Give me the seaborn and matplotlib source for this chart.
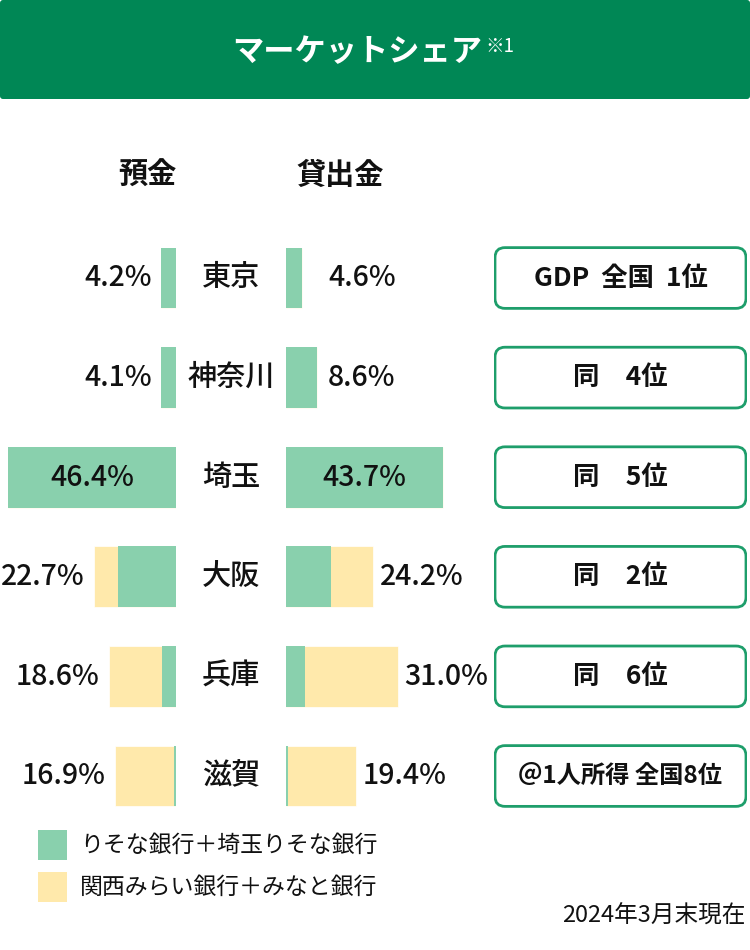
import matplotlib
matplotlib.use("Agg")
import matplotlib.pyplot as plt
import seaborn as sns
import pandas as pd
from matplotlib.patches import FancyBboxPatch, Rectangle
from matplotlib.transforms import blended_transform_factory

# ---------------- data ----------------
prefectures = ["東京", "神奈川", "埼玉", "大阪", "兵庫", "滋賀"]
deposit_total = [4.2, 4.1, 46.4, 22.7, 18.6, 16.9]
deposit_resona = [4.2, 4.1, 46.4, 16.0, 3.9, 0.6]
loan_total = [4.6, 8.6, 43.7, 24.2, 31.0, 19.4]
loan_resona = [4.6, 8.6, 43.7, 12.5, 5.3, 0.5]
rank_labels = ["GDP  全国  1位", "同　4位", "同　5位", "同　2位", "同　6位", "＠1人所得 全国8位"]
legend_labels = ["りそな銀行＋埼玉りそな銀行", "関西みらい銀行＋みなと銀行"]
col_headers = ["預金", "貸出金"]
title = "マーケットシェア"
title_note = "※1"
date_note = "2024年3月末現在"

# ---------------- style ----------------
GREEN = "#89D0AD"
YELLOW = "#FFE9AB"
HEADER = "#008755"
BOX_EDGE = "#1E9E6B"
TXT = "#111111"

sns.set_theme(style="white")
plt.rcParams["font.family"] = ["Noto Sans CJK JP", "DejaVu Sans"]

W, H = 750, 950
fig = plt.figure(figsize=(7.5, 9.5), dpi=100)
fig.patch.set_facecolor("white")

# decoration layer in figure pixels
deco = fig.add_axes([0, 0, 1, 1], zorder=0)
deco.set_xlim(0, W)
deco.set_ylim(H, 0)
deco.axis("off")
deco.patch.set_alpha(0)

# header band
deco.add_patch(FancyBboxPatch((0, 0), W, 99, boxstyle="round,pad=0,rounding_size=3",
                              facecolor=HEADER, edgecolor="none"))
deco.text(357, 52, title, color="white", fontsize=22.5, fontweight="bold",
          ha="center", va="center")
deco.text(485, 46, title_note, color="white", fontsize=13.5, ha="left", va="center")

# column headers
deco.text(147, 175, col_headers[0], fontsize=21, fontweight="bold", ha="center", va="center", color=TXT)
deco.text(340, 175, col_headers[1], fontsize=21, fontweight="bold", ha="center", va="center", color=TXT)

# bars layout
PX_PER_PCT = 3.61
row_top, row_pitch = 278, 99.6
n = len(prefectures)
y_top_px = row_top - row_pitch / 2
y_bot_px = row_top + row_pitch * (n - 1) + row_pitch / 2
ax_b = (H - y_bot_px) / H
ax_h = (y_bot_px - y_top_px) / H

left_right_px = 175.7
right_left_px = 285.7
span_px = 176

axL = fig.add_axes([(left_right_px - span_px) / W, ax_b, span_px / W, ax_h], zorder=2)
axR = fig.add_axes([right_left_px / W, ax_b, span_px / W, ax_h], zorder=2)

df = pd.DataFrame({
    "pref": prefectures,
    "dep_total": deposit_total,
    "dep_resona": deposit_resona,
    "loan_total": loan_total,
    "loan_resona": loan_resona,
})

BAR_W = 0.61
for ax, tot, res in [(axL, "dep_total", "dep_resona"), (axR, "loan_total", "loan_resona")]:
    sns.barplot(data=df, y="pref", x=tot, orient="h", color=YELLOW, saturation=1,
                width=BAR_W, edgecolor="white", linewidth=0.5, ax=ax, order=prefectures)
    sns.barplot(data=df, y="pref", x=res, orient="h", color=GREEN, saturation=1,
                width=BAR_W, edgecolor="none", linewidth=0, ax=ax, order=prefectures)
    ax.set_ylim(n - 0.5, -0.5)
    ax.axis("off")
    ax.patch.set_alpha(0)

axL.set_xlim(span_px / PX_PER_PCT, 0)
axR.set_xlim(0, span_px / PX_PER_PCT)

VAL_FS = 20.5
VAL_W = "medium"
# value labels
for i, v in enumerate(deposit_total):
    if v > 40:
        axL.text(v / 2, i, f"{v:.1f}%", ha="center", va="center", fontsize=VAL_FS,
                 fontweight=VAL_W, color=TXT)
    else:
        axL.annotate(f"{v:.1f}%", xy=(max(v, 2.7), i), xytext=(-9, 0), textcoords="offset pixels",
                     ha="right", va="center", fontsize=VAL_FS, fontweight=VAL_W, color=TXT)
for i, v in enumerate(loan_total):
    if v > 40:
        axR.text(v / 2, i, f"{v:.1f}%", ha="center", va="center", fontsize=VAL_FS,
                 fontweight=VAL_W, color=TXT)
    else:
        axR.annotate(f"{v:.1f}%", xy=(max(v, 9.8), i), xytext=(7, 0), textcoords="offset pixels",
                     ha="left", va="center", fontsize=VAL_FS, fontweight=VAL_W, color=TXT)

# prefecture names
tr = blended_transform_factory(fig.transFigure, axL.transData)
for i, p in enumerate(prefectures):
    axL.text(231 / W, i, p, transform=tr, ha="center", va="center", fontsize=21,
             fontweight="medium", color=TXT)

# ranking boxes
box_l, box_w = 494, 251
axB = fig.add_axes([box_l / W, ax_b, (box_w + 2) / W, ax_h], zorder=1)
axB.set_xlim(-1, box_w + 1)
axB.set_ylim(n - 0.5, -0.5)
axB.axis("off")
axB.patch.set_alpha(0)
for i, lab in enumerate(rank_labels):
    axB.add_patch(FancyBboxPatch((0, i - BAR_W / 2), box_w, BAR_W,
                                 boxstyle="round,pad=0,rounding_size=10",
                                 mutation_aspect=1 / row_pitch,
                                 facecolor="white", edgecolor=BOX_EDGE, linewidth=2))
    axB.text(box_w / 2, i, lab, ha="center", va="center", fontsize=19 if i < n - 1 else 17.5,
             fontweight="bold", color=TXT)

# legend
for k, (lab, col) in enumerate(zip(legend_labels, [GREEN, YELLOW])):
    yc = 845 + k * 42
    deco.add_patch(Rectangle((38, yc - 15), 29, 30, facecolor=col, edgecolor="none"))
    deco.text(80, yc, lab, ha="left", va="center", fontsize=16.5, color=TXT)

deco.text(745, 916, date_note, ha="right", va="center", fontsize=17, color=TXT)

fig.savefig("out.png", dpi=100, facecolor="white")
